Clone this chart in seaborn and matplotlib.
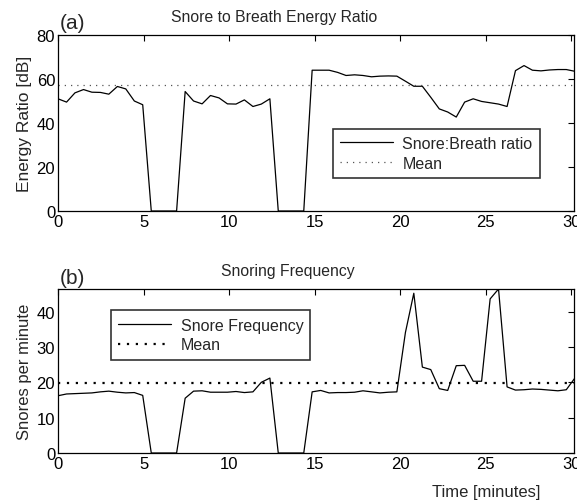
import numpy as np
import pandas as pd
import matplotlib
matplotlib.use("Agg")
import matplotlib.pyplot as plt
import seaborn as sns

# time axis (minutes)
time_min = [0.0, 0.5, 0.99, 1.49, 1.98, 2.48, 2.97, 3.47, 3.96, 4.46, 4.95,
            5.45, 5.94, 6.44, 6.93, 7.43, 7.92, 8.42, 8.91, 9.41, 9.9,
            10.4, 10.89, 11.39, 11.88, 12.38, 12.87, 13.37, 13.86, 14.36, 14.85,
            15.35, 15.84, 16.34, 16.83, 17.33, 17.82, 18.32, 18.81, 19.31, 19.8,
            20.3, 20.79, 21.29, 21.78, 22.28, 22.77, 23.27, 23.76, 24.26, 24.75,
            25.25, 25.74, 26.24, 26.73, 27.23, 27.72, 28.22, 28.71, 29.21, 29.7,
            30.2]

ratio_db = [51, 49.5, 53.7, 55.2, 54, 53.9, 53.1, 56.6, 55.5, 50, 48.3,
            0, 0, 0, 0, 54.3, 50, 48.7, 52.5, 51.4, 48.7,
            48.6, 50.5, 47.5, 48.6, 51, 0, 0, 0, 0, 64,
            64, 64, 63, 61.6, 61.9, 61.6, 61, 61.3, 61.4, 61.3,
            59, 56.7, 56.7, 51.7, 46.4, 45, 42.7, 49.5, 51, 49.8,
            49.2, 48.6, 47.5, 63.8, 66.1, 64, 63.7, 64.1, 64.3, 64.3,
            63.5]
ratio_mean = 57.3

snore_freq = [16.2, 16.7, 16.8, 16.9, 17.0, 17.3, 17.5, 17.2, 17.0, 17.1, 16.3,
              0, 0, 0, 0, 15.5, 17.5, 17.6, 17.2, 17.2, 17.2,
              17.4, 17.1, 17.3, 20.0, 21.2, 0, 0, 0, 0, 17.3,
              17.7, 17.0, 17.1, 17.1, 17.2, 17.6, 17.3, 17.0, 17.2, 17.3,
              34.1, 45.2, 24.3, 23.6, 18.2, 17.7, 24.7, 24.8, 20.3, 20.3,
              43.6, 46.4, 18.7, 17.8, 17.9, 18.1, 18.0, 17.8, 17.6, 17.9,
              21.2]
freq_mean = 19.7

x_ticks = [0, 5, 10, 15, 20, 25, 30]
ratio_ticks = [0, 20, 40, 60, 80]
freq_ticks = [0, 10, 20, 30, 40]

sns.set_theme(style="white")
plt.rcParams['font.family'] = ['Liberation Sans', 'DejaVu Sans']

W, H = 577, 502
fig = plt.figure(figsize=(W / 100, H / 100), dpi=100)

def pos(x0, y0, x1, y1):
    return [x0 / W, 1 - y1 / H, (x1 - x0) / W, (y1 - y0) / H]

ax1 = fig.add_axes(pos(58, 36, 574, 212))
ax2 = fig.add_axes(pos(58, 290, 574, 454))

df1 = pd.DataFrame({"t": time_min, "v": ratio_db})
df2 = pd.DataFrame({"t": time_min, "v": snore_freq})

sns.lineplot(data=df1, x="t", y="v", ax=ax1, color="black", lw=0.9,
             label="Snore:Breath ratio")
ax1.axhline(ratio_mean, color="#555555", ls=(0, (1, 4)), lw=0.9, label="Mean")

sns.lineplot(data=df2, x="t", y="v", ax=ax2, color="black", lw=0.9,
             label="Snore Frequency")
ax2.axhline(freq_mean, color="black", ls=(0, (1, 3)), lw=1.6, label="Mean")

ax1.set_xlim(0, 30.15)
ax1.set_ylim(0, 80)
ax1.set_yticks(ratio_ticks)
ax2.set_xlim(0, 30.15)
ax2.set_ylim(0, 46.4)
ax2.set_yticks(freq_ticks)

for ax in (ax1, ax2):
    ax.set_xticks(x_ticks)
    ax.tick_params(direction="in", top=True, right=True, length=4, width=0.8,
                   labelsize=12, pad=2, colors="black")
    for s in ax.spines.values():
        s.set_visible(True)
        s.set_color("black")
        s.set_linewidth(0.9)
    ax.set_xlabel("")

ax1.set_ylabel("Energy Ratio [dB]", fontsize=12.5, labelpad=3)
ax2.set_ylabel("Snores per minute", fontsize=12, labelpad=3)
ax2.set_xlabel("Time [minutes]", fontsize=12)
ax2.xaxis.label.set_va("center")
ax2.xaxis.set_label_coords(0.83, -0.232)

ax1.set_title("Snore to Breath Energy Ratio", fontsize=11.3, pad=10, x=0.418)
ax2.set_title("Snoring Frequency", fontsize=11.3, pad=10, x=0.445)
ax1.text(0.003, 1.015, "(a)", transform=ax1.transAxes, fontsize=15, va="bottom")
ax2.text(0.003, 1.015, "(b)", transform=ax2.transAxes, fontsize=15, va="bottom")

for ax, c in ((ax1, (0.733, 0.327)), (ax2, (0.296, 0.72))):
    leg = ax.legend(loc="center", bbox_to_anchor=c, fontsize=11.5, frameon=True,
                    fancybox=False, handlelength=3.3, borderpad=0.45,
                    labelspacing=0.3, handletextpad=0.6, borderaxespad=0)
    leg.get_frame().set_edgecolor("black")
    leg.get_frame().set_linewidth(1.2)

fig.savefig("out.png", dpi=100)
